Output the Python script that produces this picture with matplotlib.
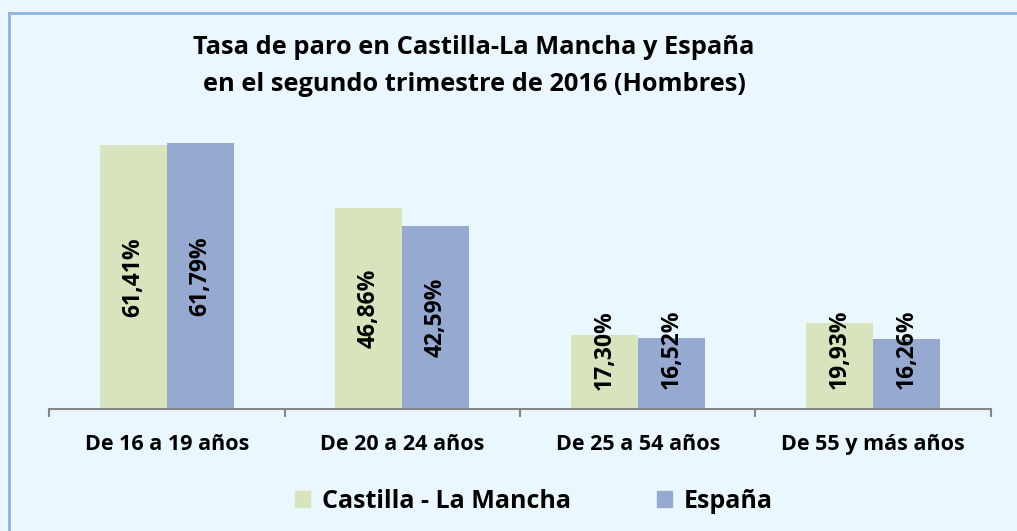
import numpy as np
import matplotlib.pyplot as plt
from matplotlib.lines import Line2D
from matplotlib.patches import Patch

categorias = ['De 16 a 19 años', 'De 20 a 24 años', 'De 25 a 54 años', 'De 55 y más años']
clm = [61.41, 46.86, 17.30, 19.93]
espana = [61.79, 42.59, 16.52, 16.26]
series = ['Castilla - La Mancha', 'España']

fondo = '#EBF7FE'
verde = '#D7E4BD'
azul = '#95A9D1'

plt.rcParams['font.family'] = ['Open Sans', 'DejaVu Sans']

fig = plt.figure(figsize=(10.17, 5.31), dpi=100, facecolor=fondo)
ax = fig.add_axes([49 / 1017, 122 / 531, 942 / 1017, 301 / 531])
ax.set_facecolor(fondo)

# marco (solo arriba e izquierda visibles)
fig.add_artist(Line2D([9 / 1017, 9 / 1017], [0, 1 - 13 / 531], transform=fig.transFigure,
                      color='#8DB3E2', lw=2))
fig.add_artist(Line2D([9 / 1017, 1], [1 - 13 / 531, 1 - 13 / 531], transform=fig.transFigure,
                      color='#8DB3E2', lw=2))

x = np.arange(len(categorias))
w = 0.285
b1 = ax.bar(x - w / 2, clm, w, color=verde)
b2 = ax.bar(x + w / 2, espana, w, color=azul)

for bars, vals in [(b1, clm), (b2, espana)]:
    for r, v in zip(bars, vals):
        ax.text(r.get_x() + r.get_width() / 2, max(v / 2, 13.8), f'{v:.2f}%'.replace('.', ','),
                rotation=90, ha='center', va='center', fontsize=16.5, fontweight='bold')

ax.set_xlim(-0.5, len(categorias) - 0.5)
ax.set_ylim(0, 70)
ax.set_yticks([])
for s in ['top', 'right', 'left']:
    ax.spines[s].set_visible(False)
ax.spines['bottom'].set_color('#868686')
ax.spines['bottom'].set_linewidth(1.5)

ax.set_xticks(np.arange(len(categorias) + 1) - 0.5, minor=False)
ax.set_xticklabels([])
ax.tick_params(axis='x', which='major', length=6, color='#868686', width=1.5, direction='out')
ax.set_xticks(x, minor=True)
ax.set_xticklabels(categorias, minor=True, fontsize=15.5, fontweight='bold')
ax.tick_params(axis='x', which='minor', length=0, pad=18)

fig.text(474 / 1017, 1 - 66 / 531,
         'Tasa de paro en Castilla-La Mancha y España\nen el segundo trimestre de 2016 (Hombres)',
         ha='center', va='center', fontsize=18.3, fontweight='bold', linespacing=1.62)

handles = [Patch(color=verde), Patch(color=azul)]
fig.legend(handles, series, loc='center', bbox_to_anchor=(534 / 1017, 1 - 501 / 531),
           ncol=2, frameon=False, prop={'size': 18, 'weight': 'bold'},
           handlelength=0.6, handleheight=0.6, handletextpad=0.5, columnspacing=3.4)

fig.savefig('out.png', dpi=100, facecolor=fondo)
